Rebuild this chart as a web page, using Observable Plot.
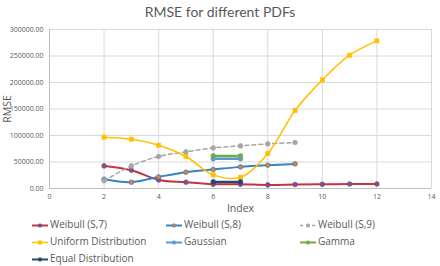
<!DOCTYPE html>
<html><head><meta charset="utf-8">
<script src="https://cdn.jsdelivr.net/npm/d3@7"></script>
<script src="https://cdn.jsdelivr.net/npm/@observablehq/plot@0.6"></script>
<style>
body{margin:0;background:#fff;font-family:"Open Sans",sans-serif;}
#wrap{width:440px;height:266px;position:relative;overflow:hidden;}
#title{height:24px;line-height:24px;text-align:center;font-size:14px;color:#595959;font-family:Lato,sans-serif;}
#chart{position:absolute;left:0;top:24px;}
#legend{position:absolute;left:0;top:216px;width:440px;font-size:10px;color:#595959;}
.item{position:absolute;height:17px;line-height:17px;white-space:nowrap;}
.item svg{vertical-align:middle;margin-right:2px;}
</style></head>
<body><div id="wrap"><div id="title">RMSE for different PDFs</div><div id="chart"></div><div id="legend"></div></div>
<script>
const xTicks = [0, 2, 4, 6, 8, 10, 12, 14];
const yTicks = [0, 50000, 100000, 150000, 200000, 250000, 300000];

const idxLong = [2, 3, 4, 5, 6, 7, 8, 9, 10, 11, 12];
const idxMid = [2, 3, 4, 5, 6, 7, 8, 9];
const idxShort = [6, 7];

const weibull7 = [42600, 34500, 16200, 11900, 8100, 8000, 6800, 7500, 8000, 8500, 8500];
const weibull8 = [17500, 11900, 21900, 30800, 35800, 40800, 44000, 46400];
const weibull9 = [14500, 42600, 60400, 69100, 76600, 80400, 84200, 86800];
const uniform = [96800, 93000, 81700, 60400, 25700, 21300, 66000, 147200, 204900, 251500, 278500];
const gaussian = [55900, 55900];
const gamma = [61500, 61500];
const equalDist = [12500, 12500];

const series = [
  {name: "Weibull (S,7)", x: idxLong, y: weibull7, color: "#C3343F", mfill: "#4A62B8", w: 2, dash: null, sym: "circle"},
  {name: "Weibull (S,8)", x: idxMid, y: weibull8, color: "#3583C4", mfill: "#ED7D31", w: 2, dash: null, sym: "circle"},
  {name: "Weibull (S,9)", x: idxMid, y: weibull9, color: "#A5A5A5", mfill: "#A5A5A5", w: 1.5, dash: "4,3", sym: "circle"},
  {name: "Uniform Distribution", x: idxLong, y: uniform, color: "#FFC000", mfill: "#FFC000", w: 1.5, dash: null, sym: "square"},
  {name: "Gaussian", x: idxShort, y: gaussian, color: "#5B9BD5", mfill: "#5B9BD5", w: 2.5, dash: null, sym: "circle"},
  {name: "Gamma", x: idxShort, y: gamma, color: "#70AD47", mfill: "#70AD47", w: 2.5, dash: null, sym: "circle"},
  {name: "Equal Distribution", x: idxShort, y: equalDist, color: "#264478", mfill: "#264478", w: 2.5, dash: null, sym: "circle"}
];

const marks = [
  Plot.gridX(xTicks, {stroke: "#d9d9d9", strokeOpacity: 1, strokeWidth: 1}),
  Plot.gridY(yTicks, {stroke: "#d9d9d9", strokeOpacity: 1, strokeWidth: 1}),
  Plot.ruleX([0], {stroke: "#bfbfbf"}),
  Plot.ruleY([0], {stroke: "#bfbfbf"})
];
for (const s of series) {
  const data = s.x.map((x, i) => ({x, y: s.y[i]}));
  marks.push(Plot.line(data, {x: "x", y: "y", stroke: s.color, strokeWidth: s.w, strokeDasharray: s.dash, curve: "catmull-rom"}));
  marks.push(Plot.dot(data, {x: "x", y: "y", r: 2.3, symbol: s.sym, fill: s.mfill, stroke: s.color, strokeWidth: 0.8}));
}

const chart = Plot.plot({
  width: 440, height: 194,
  marginTop: 5, marginBottom: 30, marginLeft: 49, marginRight: 9,
  style: {fontFamily: "Open Sans, sans-serif", color: "#595959", background: "transparent"},
  x: {domain: [0, 14], ticks: xTicks, tickSize: 0, tickPadding: 6, label: "Index", labelAnchor: "center", labelArrow: "none", labelOffset: 23},
  y: {domain: [0, 300000], ticks: yTicks, tickSize: 0, tickPadding: 6, tickFormat: d3.format(".2f"), label: "RMSE", labelAnchor: "center", labelArrow: "none", labelOffset: 46},
  marks
});
chart.querySelectorAll('g[aria-label="x-axis tick label"] text, g[aria-label="y-axis tick label"] text').forEach(t => t.setAttribute("font-size", "7"));
chart.querySelectorAll('g[aria-label="x-axis label"] text, g[aria-label="y-axis label"] text').forEach(t => t.setAttribute("font-size", "10.5"));
document.getElementById("chart").appendChild(chart);

const cols = [32, 166, 300];
const legend = document.getElementById("legend");
series.forEach((s, i) => {
  const d = document.createElement("div");
  d.className = "item";
  d.style.left = cols[i % 3] + "px";
  d.style.top = (Math.floor(i / 3) * 17) + "px";
  const sym = s.sym === "square" ? `<rect x="6" y="3.5" width="4" height="4" fill="${s.mfill}"/>` : `<circle cx="8" cy="5.5" r="1.8" fill="${s.mfill}" stroke="${s.color}" stroke-width="0.6"/>`;
  d.innerHTML = `<svg width="16" height="11"><line x1="0" x2="16" y1="5.5" y2="5.5" stroke="${s.color}" stroke-width="${Math.min(s.w,2)}" ${s.dash ? 'stroke-dasharray="3,3"' : ''}/>${sym}</svg>${s.name}`;
  legend.appendChild(d);
});
</script></body></html>
